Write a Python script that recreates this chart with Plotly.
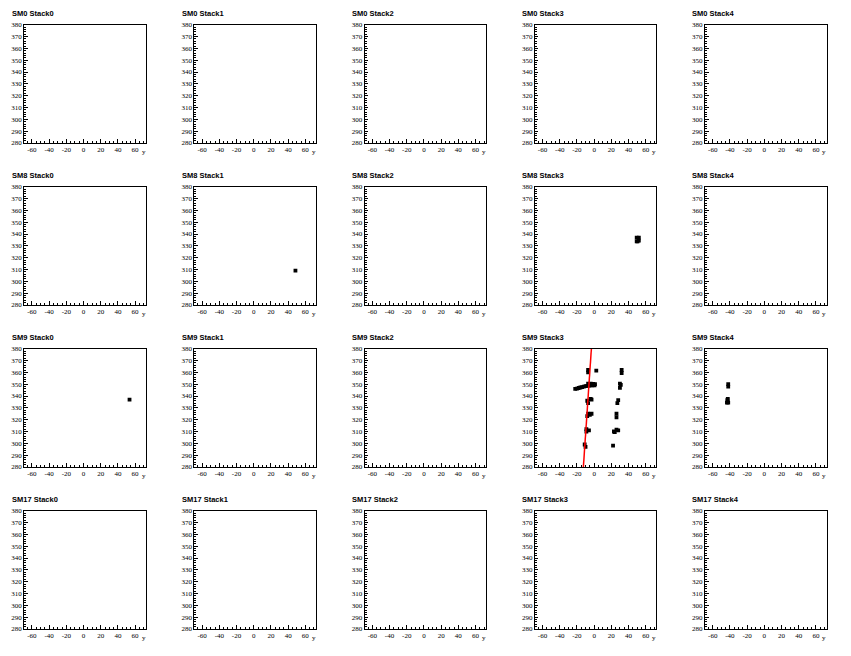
import plotly.graph_objects as go

# ---------------- data ----------------
modules = ["SM0", "SM8", "SM9", "SM17"]
stacks = ["Stack0", "Stack1", "Stack2", "Stack3", "Stack4"]

x_range = [-69, 72.3]
z_range = [280, 380]
x_ticks = [-60, -40, -20, 0, 20, 40, 60]
z_ticks = [280, 290, 300, 310, 320, 330, 340, 350, 360, 370, 380]

# hits per panel: (module, stack) -> y values and vertical values
sm8_stack1_y = [48.5]
sm8_stack1_v = [309]

sm8_stack3_y = [49.5, 52.0, 52.0, 49.5, 50.5]
sm8_stack3_v = [337.0, 337.0, 334.5, 333.8, 333.8]

sm9_stack0_y = [53.5]
sm9_stack0_v = [337]

sm9_stack3_y = [-7, -7, 2.5, 32, 32,
                -22, -20, -18, -16, -14, -12, -10, -8, -6, -4, -2, 0.5, -7, -4, -1, 1,
                30, 31, 30,
                -8, -4, -7, -3, 28, 27,
                -8, -5, -3, -7, 26, 26,
                -9, -6, -9, 23, 26, 28, 24,
                -10, -11, 22]
sm9_stack3_v = [360, 362, 361.5, 359.5, 362,
                346, 346.3, 346.8, 347.2, 347.6, 348, 348.3, 348.6, 348.8, 349, 349, 349, 350.5, 350.5, 350.3, 350,
                347, 349.5, 350.5,
                336, 337.5, 334, 337, 336.5, 334,
                323, 324, 325, 325, 322, 325,
                310, 311, 312, 310, 311.5, 311, 309.5,
                297, 299, 298]
sm9_stack3_track_y = [-12.5, -3.2]
sm9_stack3_track_v = [280, 380]

sm9_stack4_y = [-42, -42, -43.5, -42, -43, -42.5]
sm9_stack4_v = [348, 350, 334.5, 334.5, 336.5, 337.5]

hits = {
    ("SM8", "Stack1"): (sm8_stack1_y, sm8_stack1_v),
    ("SM8", "Stack3"): (sm8_stack3_y, sm8_stack3_v),
    ("SM9", "Stack0"): (sm9_stack0_y, sm9_stack0_v),
    ("SM9", "Stack3"): (sm9_stack3_y, sm9_stack3_v),
    ("SM9", "Stack4"): (sm9_stack4_y, sm9_stack4_v),
}
tracks = {
    ("SM9", "Stack3"): (sm9_stack3_track_y, sm9_stack3_track_v),
}

# ---------------- layout ----------------
W, H = 851, 656
padw, padh = W / 5, H / 4
left, right, top, bottom = 24.2, 145.7, 21.0, 140.7

fig = go.Figure()
layout = dict(
    width=W, height=H, margin=dict(l=0, r=0, t=0, b=0),
    paper_bgcolor="white", plot_bgcolor="white", showlegend=False,
    annotations=[],
)

tickfont = dict(family="Liberation Serif, Times New Roman, serif", size=7, color="black")

idx = 0
for r, sm in enumerate(modules):
    for c, st in enumerate(stacks):
        idx += 1
        xa = "xaxis" if idx == 1 else f"xaxis{idx}"
        ya = "yaxis" if idx == 1 else f"yaxis{idx}"
        xref = "x" if idx == 1 else f"x{idx}"
        yref = "y" if idx == 1 else f"y{idx}"
        x0 = (c * padw + left) / W
        x1 = (c * padw + right) / W
        y0 = 1 - (r * padh + bottom) / H
        y1 = 1 - (r * padh + top) / H
        layout[xa] = dict(
            domain=[x0, x1], anchor=yref, range=x_range,
            tickmode="array", tickvals=x_ticks, ticktext=[str(v) for v in x_ticks],
            ticks="inside", ticklen=3.5, tickwidth=1, tickcolor="black",
            minor=dict(dtick=5, tick0=0, ticks="inside", ticklen=2, tickcolor="black"),
            showline=True, linecolor="black", linewidth=1, mirror=True,
            showgrid=False, zeroline=False, tickfont=tickfont, fixedrange=True,
        )
        layout[ya] = dict(
            domain=[y0, y1], anchor=xref, range=z_range,
            tickmode="array", tickvals=z_ticks, ticktext=[str(v) for v in z_ticks],
            ticks="inside", ticklen=3.5, tickwidth=1, tickcolor="black",
            minor=dict(dtick=2, tick0=280, ticks="inside", ticklen=2, tickcolor="black"),
            showline=True, linecolor="black", linewidth=1, mirror=True,
            showgrid=False, zeroline=False, tickfont=tickfont, fixedrange=True,
        )
        layout["annotations"].append(dict(
            text=f"<b>{sm} {st}</b>", xref="paper", yref="paper",
            x=(c * padw + 9.5) / W, y=1 - (r * padh + 10) / H,
            xanchor="left", yanchor="middle", showarrow=False,
            font=dict(family="Liberation Sans, Arial, sans-serif", size=7.5, color="black"),
        ))
        layout["annotations"].append(dict(
            text="y", xref="paper", yref="paper",
            x=(c * padw + 143.5) / W, y=1 - (r * padh + 150) / H,
            xanchor="center", yanchor="middle", showarrow=False,
            font=tickfont,
        ))
        # empty trace to register the axes
        fig.add_trace(go.Scatter(x=[], y=[], xaxis=xref, yaxis=yref, mode="markers"))
        if (sm, st) in hits:
            hy, hv = hits[(sm, st)]
            fig.add_trace(go.Scatter(
                x=hy, y=hv, xaxis=xref, yaxis=yref, mode="markers",
                marker=dict(symbol="square", size=3.8, color="black", line=dict(width=0)),
                hoverinfo="skip",
            ))
        if (sm, st) in tracks:
            ty, tv = tracks[(sm, st)]
            fig.add_trace(go.Scatter(
                x=ty, y=tv, xaxis=xref, yaxis=yref, mode="lines",
                line=dict(color="red", width=1.5), hoverinfo="skip",
            ))

fig.update_layout(**layout)
fig.write_html(
    "out.html",
    config={"displayModeBar": False, "staticPlot": True},
    post_script="document.body.style.margin='0';document.body.style.overflow='hidden';",
)
